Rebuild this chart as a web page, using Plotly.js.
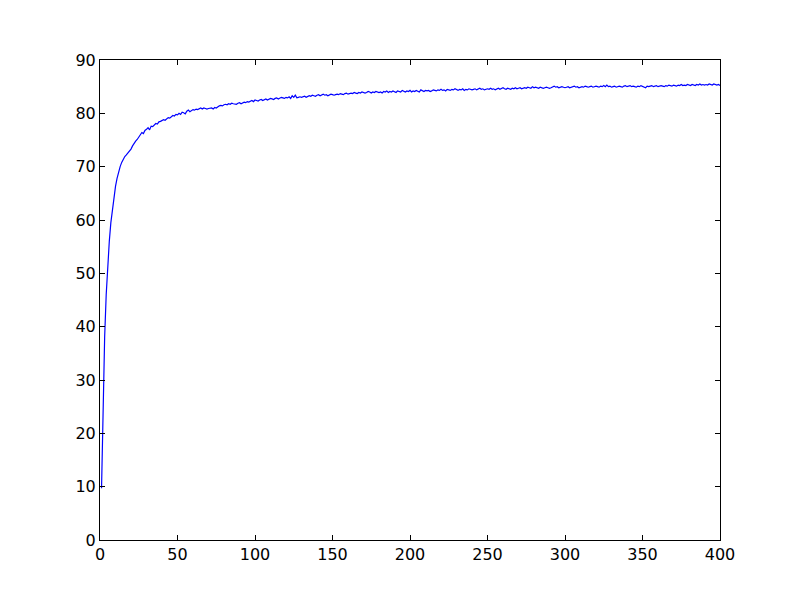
<!DOCTYPE html>
<html>
<head>
<meta charset="utf-8">
<script src="https://cdn.plot.ly/plotly-3.0.1.min.js"></script>
<style>html,body{margin:0;padding:0;background:#fff;}#chart{width:800px;height:600px;}</style>
</head>
<body>
<div id="chart"></div>
<script>
const yValues = [
9.7, 26, 38, 46, 52, 56, 59.5, 62, 64.5, 66.3,
67.8, 69, 70, 70.8, 71.4, 71.9, 72.2, 72.5, 72.9, 73.3,
73.9, 74.4, 74.8, 75.1, 75.6, 75.9, 76.4, 76.2, 76.8, 77.0,
77.3, 76.9, 77.6, 77.5, 77.9, 78.1, 78.0, 78.4, 78.5, 78.7,
78.8, 78.7, 79.0, 79.2, 79.1, 79.4, 79.6, 79.5, 79.8, 79.7,
80.0, 79.8, 80.2, 80.1, 79.9, 80.4, 80.6, 80.3, 80.5, 80.7,
80.6, 80.8, 80.7, 80.9, 81.0, 80.8, 81.0, 80.9, 80.8, 80.9,
80.9, 81.0, 80.8, 81.1, 81.0, 81.3, 81.4, 81.5, 81.4, 81.6,
81.7, 81.6, 81.8, 81.7, 81.9, 81.8, 81.8, 81.7, 81.9, 82.0,
81.8, 81.9, 82.1, 82.0, 82.2, 82.1, 82.3, 82.4, 82.2, 82.5,
82.4, 82.3, 82.5, 82.6, 82.4, 82.5, 82.7, 82.5, 82.6, 82.8,
82.7, 82.6, 82.8, 82.9, 82.7, 82.8, 83.0, 82.9, 82.8, 83.0,
82.9, 83.1, 82.8, 83.3, 83.0, 83.4, 82.9, 83.0, 83.1, 83.0,
83.1, 83.2, 83.0, 83.2, 83.3, 83.2, 83.4, 83.3, 83.2, 83.4,
83.5, 83.3, 83.4, 83.6, 83.4, 83.5, 83.3, 83.5, 83.6, 83.5,
83.4, 83.5, 83.6, 83.5, 83.7, 83.6, 83.5, 83.7, 83.8, 83.6,
83.7, 83.8, 83.7, 83.9, 83.8, 83.7, 83.9, 83.8, 84.0, 83.9,
83.8, 83.9, 84.1, 84.0, 83.8, 84.0, 83.9, 84.1, 84.0, 83.9,
84.0, 83.8, 84.1, 84.0, 84.2, 83.9, 84.1, 84.0, 84.2, 84.1,
83.9, 84.2, 84.1, 84.0, 84.3, 84.1, 84.0, 84.2, 84.1, 84.3,
84.0, 84.2, 84.1, 84.3, 84.2, 84.0, 84.4, 84.2, 84.1, 84.3,
84.2, 84.3, 84.1, 84.2, 84.4, 84.3, 84.2, 84.4, 84.3, 84.5,
84.3, 84.4, 84.2, 84.5, 84.4, 84.3, 84.5, 84.4, 84.6, 84.4,
84.3, 84.5, 84.4, 84.6, 84.3, 84.5, 84.4, 84.6, 84.5, 84.4,
84.5, 84.6, 84.4, 84.5, 84.7, 84.5, 84.6, 84.4, 84.5, 84.6,
84.5, 84.7, 84.5, 84.6, 84.4, 84.6, 84.7, 84.5, 84.6, 84.8,
84.6, 84.5, 84.7, 84.6, 84.5, 84.7, 84.6, 84.8, 84.6, 84.7,
84.8, 84.6, 84.7, 84.8, 84.7, 84.9, 84.8, 84.7, 85.0, 84.8,
84.9, 84.8, 84.7, 84.9, 84.8, 84.7, 84.8, 84.9, 84.8, 84.7,
84.8, 84.9, 85.1, 84.9, 85.0, 84.8, 84.9, 85.0, 84.9, 84.8,
84.9, 85.0, 84.8, 84.9, 85.0, 85.1, 84.9, 85.0, 84.8, 84.9,
85.0, 84.9, 85.1, 85.0, 84.9, 85.0, 85.1, 84.9, 85.0, 85.1,
85.0, 84.9, 85.1, 85.0, 85.2, 85.0, 85.3, 85.0, 85.1, 84.9,
85.0, 85.1, 84.9, 85.0, 85.1, 85.0, 84.9, 85.1, 85.2, 85.0,
85.1, 85.2, 85.0, 85.1, 85.0, 84.9, 85.1, 85.0, 85.2, 85.1,
85.0, 84.8, 85.1, 85.0, 85.1, 85.2, 85.0, 85.1, 85.2, 85.0,
85.1, 85.2, 85.1, 85.0, 85.2, 85.1, 85.3, 85.2, 85.1, 85.3,
85.2, 85.1, 85.3, 85.2, 85.4, 85.2, 85.3, 85.2, 85.4, 85.3,
85.2, 85.4, 85.3, 85.2, 85.4, 85.3, 85.5, 85.3, 85.4, 85.3,
85.4, 85.3, 85.5, 85.4, 85.3, 85.5, 85.4, 85.3, 85.4, 85.2
];
const xValues = yValues.map((_, i) => i + 1);
const xTicks = [0, 50, 100, 150, 200, 250, 300, 350, 400];
const yTicks = [0, 10, 20, 30, 40, 50, 60, 70, 80, 90];

const axisCommon = {
  showgrid: false,
  zeroline: false,
  showline: true,
  linecolor: '#000',
  linewidth: 1,
  mirror: 'ticks',
  ticks: 'inside',
  ticklen: 5,
  tickcolor: '#000',
  tickwidth: 1,
  tickfont: {family: 'DejaVu Sans', size: 16, color: '#000'},
  tickmode: 'array'
};

const data = [{
  x: xValues,
  y: yValues,
  type: 'scatter',
  mode: 'lines',
  line: {color: '#0000ff', width: 1.2},
  hoverinfo: 'skip'
}];

const layout = {
  width: 800,
  height: 600,
  margin: {l: 100, r: 80, t: 60, b: 60},
  paper_bgcolor: '#fff',
  plot_bgcolor: '#fff',
  showlegend: false,
  xaxis: Object.assign({}, axisCommon, {range: [0, 400], tickvals: xTicks, ticktext: xTicks.map(String)}),
  yaxis: Object.assign({}, axisCommon, {range: [0, 90], tickvals: yTicks, ticktext: yTicks.map(String)})
};

Plotly.newPlot('chart', data, layout, {staticPlot: true, displayModeBar: false});
</script>
</body>
</html>
